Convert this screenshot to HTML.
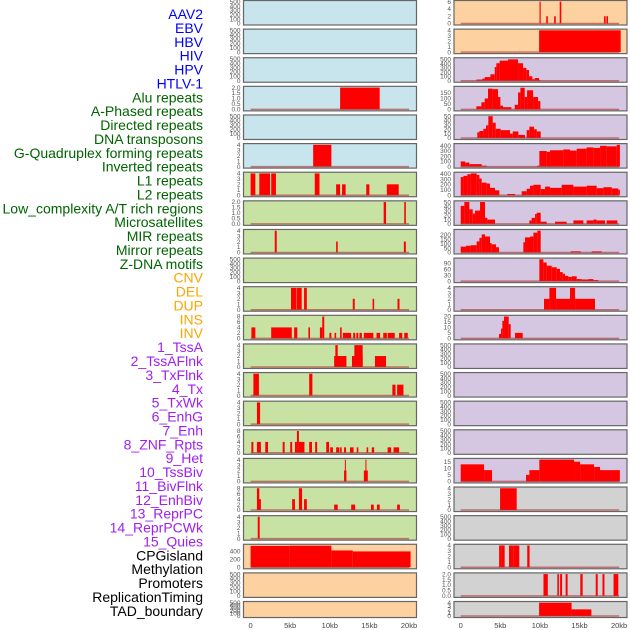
<!DOCTYPE html>
<html><head><meta charset="utf-8">
<style>
body{margin:0;background:#fff;width:630px;height:630px;overflow:hidden}
svg{display:block;font-family:"Liberation Sans",sans-serif}
</style></head>
<body>
<svg id="chart" width="630" height="630" viewBox="0 0 630 630">
<g id="labels"></g>
<g id="panels"></g>
<g id="xaxes"></g>
</svg>
<script>
// ---- data: segments [startKb, endKb, value] ----
const featureLabels = ["AAV2","EBV","HBV","HIV","HPV","HTLV-1","Alu repeats","A-Phased repeats","Directed repeats","DNA transposons","G-Quadruplex forming repeats","Inverted repeats","L1 repeats","L2 repeats","Low_complexity A/T rich regions","Microsatellites","MIR repeats","Mirror repeats","Z-DNA motifs","CNV","DEL","DUP","INS","INV","1_TssA","2_TssAFlnk","3_TxFlnk","4_Tx","5_TxWk","6_EnhG","7_Enh","8_ZNF_Rpts","9_Het","10_TssBiv","11_BivFlnk","12_EnhBiv","13_ReprPC","14_ReprPCWk","15_Quies","CPGisland","Methylation","Promoters","ReplicationTiming","TAD_boundary"];
const labelGroups = [6,13,5,15,5];
const groupColors = ["#0000ff","#006400","#ffa500","#a020f0","#000000"];
const xTickKb = [0,5,10,15,20];
const xTickLabels = ["0","5kb","10kb","15kb","20kb"];

const c1r3 = [[11.3,16.3,2]];
const c1r5 = [[7.9,10.2,4]];
const c1r6 = [[0,0.6,4],[1.1,2.45,4],[2.6,3.2,4],[8.1,8.7,4],[10.8,11.3,2],[11.55,12,2],[14.6,15,2],[17.2,18.7,2]];
const c1r7 = [[16.8,17.1,2],[19.4,19.6,2]];
const c1r8 = [[3.05,3.3,4],[10.8,11.0,2],[19.35,19.6,2]];
const c1r10 = [[5.1,5.8,4],[5.85,6.45,4],[6.75,7.1,4],[12.9,13.15,2],[15.4,15.6,2],[18.55,18.8,2]];
const c1r11 = [[0.1,0.6,4],[2.6,5.2,4],[5.5,5.9,4],[7.3,7.5,4],[8.75,9.05,4],[9.05,9.3,8],[9.95,10.2,2],[10.6,10.8,2],[11.3,11.5,4],[11.65,12.7,2],[12.95,13.2,2],[13.35,13.6,2],[13.75,14.05,2],[14.3,15.5,2],[15.9,16.35,2],[16.75,17.2,2],[17.3,18.2,2],[18.75,19.15,2],[19.4,19.85,2]];
const c1r12 = [[10.55,12.1,2],[10.7,11.0,4],[12.8,14.15,2],[13.1,14.15,4],[15.7,17.1,2]];
const c1r13 = [[0.35,1.05,4],[7.4,7.8,4],[17.9,18.3,2],[18.5,19.3,2]];
const c1r14 = [[0.8,1.2,4]];
const c1r15 = [[0.1,0.35,4],[0.8,1.3,4],[1.85,2.2,4],[4.05,4.3,4],[5.0,5.25,4],[5.6,5.85,4],[5.85,6.1,8],[6.1,6.8,4],[7.4,7.75,4],[8.15,8.4,4],[9.55,9.9,4],[10.05,10.4,2],[10.8,11.2,2],[11.3,11.5,2],[11.8,12.05,2],[12.55,13.0,2],[13.4,13.6,2],[14.65,14.85,2],[15.3,15.6,2],[17.3,17.75,2],[18.05,18.75,2]];
const c1r16 = [[11.8,12.1,2],[11.9,12.0,4],[14.3,14.8,2],[14.5,14.6,4]];
const c1r17 = [[0.8,1.1,8],[1.0,1.3,4],[5.25,5.6,4],[6.1,6.5,8],[6.75,7.1,4],[10.55,11.0,2],[12.7,13.2,2],[15.2,15.55,2],[15.95,16.3,2],[18.5,18.85,2]];
const c1r18 = [[0.9,1.15,4]];
const c1r19 = [[0,4.9,530],[4.9,10.2,535],[10.2,12.9,416],[12.9,20.2,393]];

const c2r0 = [[9.95,10.1,6],[10.8,11,2],[11.8,12,2],[12.5,12.7,6],[18.1,18.3,2],[18.4,18.6,2]];
const c2r1 = [[9.9,20.2,4]];
const c2r2 = [[1.98,2.74,28],[2.74,3.03,50],[3.03,3.75,85],[3.75,4.3,150],[4.3,4.5,320],[4.5,4.92,410],[4.92,5.97,470],[5.97,7.24,500],[7.24,7.87,410],[7.87,8.29,300],[8.29,8.63,250],[8.63,9.05,105],[9.05,9.35,35],[9.35,9.9,63],[9.9,10.06,20]];
const c2r3 = [[1.98,2.61,28],[2.61,3.03,65],[3.03,3.45,100],[3.45,4.0,190],[4.0,4.71,185],[4.71,5.01,113],[5.01,5.35,34],[5.35,6.4,20],[6.82,7.24,42],[7.24,7.54,155],[7.54,8.08,198],[8.08,8.38,113],[8.38,9.14,175],[9.14,9.77,113],[9.77,10.06,76]];
const c2r4 = [[2.1,2.36,13],[2.36,2.86,16],[2.86,3.2,21],[3.2,3.49,29],[3.49,4.04,50],[4.04,4.42,35],[4.42,5.05,21],[5.05,6.23,18],[6.23,6.57,10],[6.57,7.28,15],[7.28,8.12,7],[8.33,8.67,18],[8.67,9.26,26],[9.26,9.6,20],[9.6,10.1,15]];
const c2r5 = [[0,0.55,100],[0.55,1.09,78],[1.09,2.65,48],[2.65,3.28,18],[9.68,9.93,18],[9.93,10.86,300],[10.86,11.28,285],[11.28,12.96,315],[12.96,13.8,330],[13.8,14.65,310],[14.65,15.9,345],[15.9,16.75,370],[16.75,17.6,360],[17.6,18.43,400],[18.43,19.7,390],[19.7,20.1,420]];
const c2r6 = [[0,0.34,337],[0.34,0.84,360],[0.84,1.26,390],[1.26,2.02,405],[2.02,2.36,377],[2.36,2.65,309],[2.65,3.28,234],[3.28,3.7,217],[3.7,4.33,137],[4.33,4.88,91],[5.89,6.86,23],[7.7,8.33,74],[8.33,8.75,120],[8.75,9.18,177],[9.18,10.1,194],[10.1,10.65,114],[10.65,11.28,160],[11.28,12.75,137],[12.75,14.23,194],[14.23,15.9,160],[15.9,17.17,177],[17.17,18.01,131],[18.01,19.07,149],[19.07,19.9,126],[19.9,20.1,103]];
const c2r7 = [[0,0.46,42],[0.46,1.09,51],[1.09,1.52,34],[1.52,1.81,24],[1.81,2.44,31],[2.44,3.07,51],[3.07,3.37,14],[3.37,4.33,10],[8.67,8.96,8],[8.96,9.39,14],[9.39,9.6,23],[9.6,10.1,26],[10.1,10.86,5],[11.91,13.38,5],[14.23,15.49,8],[15.9,16.75,8],[16.75,17.17,10],[17.17,18.22,8],[18.43,19.78,8]];
const c2r8 = [[0,0.67,67],[0.67,1.26,77],[1.26,2.02,83],[2.02,2.36,127],[2.36,2.65,167],[2.65,3.07,207],[3.07,3.7,183],[3.7,3.91,107],[3.91,4.46,93],[4.46,4.84,60],[7.91,8.12,117],[8.12,8.75,173],[8.75,9.18,183],[9.18,9.68,227],[9.68,10.1,250],[13.89,15.15,13],[16.54,17.8,13]];
const c2r9 = [[9.93,10.44,109],[10.44,10.86,93],[10.86,11.49,77],[11.49,12.12,69],[12.12,12.54,61],[12.54,12.88,45],[12.88,13.17,37],[13.17,13.59,26],[13.59,14.02,21],[14.02,14.65,24],[14.65,15.28,10],[15.28,16.12,8],[16.12,16.75,10],[16.75,17.38,5]];
const c2r10 = [[10.52,11.2,2],[11.2,12.04,4],[12.04,13.8,2],[13.8,14.44,4],[14.44,16.96,2]];
const c2r11 = [[4.84,5.09,4],[5.09,5.26,9],[5.26,5.47,16],[5.47,6.06,20],[6.06,6.31,13],[6.86,7.83,5]];
const c2r16 = [[0,2.95,13],[2.95,3.96,8.6],[8.25,8.67,5],[8.67,9.93,8.6],[9.93,14.31,16.6],[14.31,15.07,15],[15.07,16.84,13],[16.84,17.59,11],[17.59,20.1,8.6]];
const c2r17 = [[4.97,7.07,4]];
const c2r19 = [[4.85,5.1,4],[5.1,5.55,4],[6.1,6.7,4],[6.7,7.4,4],[8.4,8.7,4]];
const c2r20 = [[10.45,11.0,2],[12.2,12.4,2],[12.55,12.8,2],[13.25,13.5,2],[15.1,15.4,2],[17.05,17.3,2],[17.9,18.15,2],[19.3,19.9,2]];
const c2r21 = [[9.9,14.0,4],[14.0,16.5,2]];

const T500 = [0,100,200,300,400,500];
const T4 = [0,1,2,3,4];
const T8 = [0,2,4,6,8];
const T2 = [0,0.5,1,1.5,2];

// ---- layout ----
const BG = {blue:"#c8e4ec",green:"#c8e2a4",orange:"#fed2a0",purple:"#d5c6e2",gray:"#d2d2d2"};
function bg1(r){return r<=5?BG.blue:(r<=18?BG.green:BG.orange);}
function bg2(r){return r<=1?BG.orange:(r<=16?BG.purple:BG.gray);}
const panels = [];
function P(col,row,data,ticks,yMax){panels.push({col,row,data,ticks,yMax});}
for(let r=0;r<22;r++){
  // defaults filled below
}
const c1 = {3:[c1r3,T2,2],5:[c1r5,T4,4],6:[c1r6,T4,4],7:[c1r7,T2,2],8:[c1r8,T4,4],10:[c1r10,T4,4],11:[c1r11,T8,8],12:[c1r12,T4,4],13:[c1r13,T4,4],14:[c1r14,T4,4],15:[c1r15,T8,8],16:[c1r16,T4,4],17:[c1r17,T8,8],18:[c1r18,T4,4],19:[c1r19,[0,200,400],540]};
const c2 = {0:[c2r0,[0,2,4,6],6],1:[c2r1,T4,4],2:[c2r2,T500,510],3:[c2r3,[0,50,100,150],200],4:[c2r4,[0,10,20,30,40,50],50],5:[c2r5,T500.slice(0,5),420],6:[c2r6,T500.slice(0,5),405],7:[c2r7,[0,10,20,30,40,50],51],8:[c2r8,[0,50,100,150,200],250],9:[c2r9,[0,30,60,90],109],10:[c2r10,T4,4],11:[c2r11,[0,5,10,15,20],20],16:[c2r16,[0,5,10,15],16.6],17:[c2r17,T4,4],19:[c2r19,T4,4],20:[c2r20,T2,2],21:[c2r21,T4,4]};
for(let r=0;r<22;r++){
  const a=c1[r]; if(a) P(0,r,a[0],a[1],a[2]); else P(0,r,null,T500,500);
  const b=c2[r]; if(b) P(1,r,b[0],b[1],b[2]); else P(1,r,null,T500,500);
}
const NS="http://www.w3.org/2000/svg";
function mk(tag,attrs,parent){const e=document.createElementNS(NS,tag);for(const k in attrs)e.setAttribute(k,attrs[k]);parent.appendChild(e);return e;}
const colX=[243.5,454];const colW=173;
const zeroX=[250.6,460.7]; const kbPx=7.92;
function xs(col,kb){return zeroX[col]+kb*kbPx;}

// labels
const lg=document.getElementById('labels');
let idx=0;
labelGroups.forEach((n,g)=>{for(let i=0;i<n;i++){
  const t=mk('text',{x:203,y:14+idx*13.88+5,'text-anchor':'end','font-size':14,fill:groupColors[g]},lg);
  t.textContent=featureLabels[idx];
  
  
  idx++;}});

// panels
const pg=document.getElementById('panels');
panels.forEach(p=>{
  const top=28.62*p.row+0.5, h=p.row===21?16:24.5;
  const left=colX[p.col];
  const g=mk('g',{},pg);
  
  
  const bgc=p.col===0?bg1(p.row):bg2(p.row);
  const rect=mk('rect',{x:left,y:top,width:colW,height:h,fill:bgc},g);
  
  
  const y0=top+h-1.5, y1=top+1.2;
  const ys=v=>y0-(v/p.yMax)*(y0-y1);
  if(p.data){
    p.data.forEach(s=>{
      const x1=xs(p.col,s[0]),x2=xs(p.col,s[1]);
      const b=mk('rect',{x:x1,y:ys(s[2]),width:Math.max(1,x2-x1),height:y0-ys(s[2]),fill:'#ff0000'},g);
      
      
    });
    const bl=mk('line',{x1:xs(p.col,0),x2:xs(p.col,20),y1:y0,y2:y0,stroke:'#b03030','stroke-width':1.5,'stroke-opacity':0.6},g);
    
    
  }
  mk('rect',{x:left,y:top,width:colW,height:h,fill:'none',stroke:'#666','stroke-width':1.2},g);
  p.ticks.forEach(v=>{
    const t=mk('text',{x:left-3,y:ys(v)+2.2,'text-anchor':'end','font-size':6.5,fill:'#555'},g);
    t.textContent=(p.ticks===T2)?v.toFixed(1):String(v);
    
    
  });
});

// x axes
const xg=document.getElementById('xaxes');
[0,1].forEach(col=>{xTickKb.forEach((k,i)=>{
  const t=mk('text',{x:xs(col,k),y:628,'text-anchor':'middle','font-size':7.5,fill:'#444'},xg);
  t.textContent=xTickLabels[i];
  
  
});});
</script>
</body></html>
